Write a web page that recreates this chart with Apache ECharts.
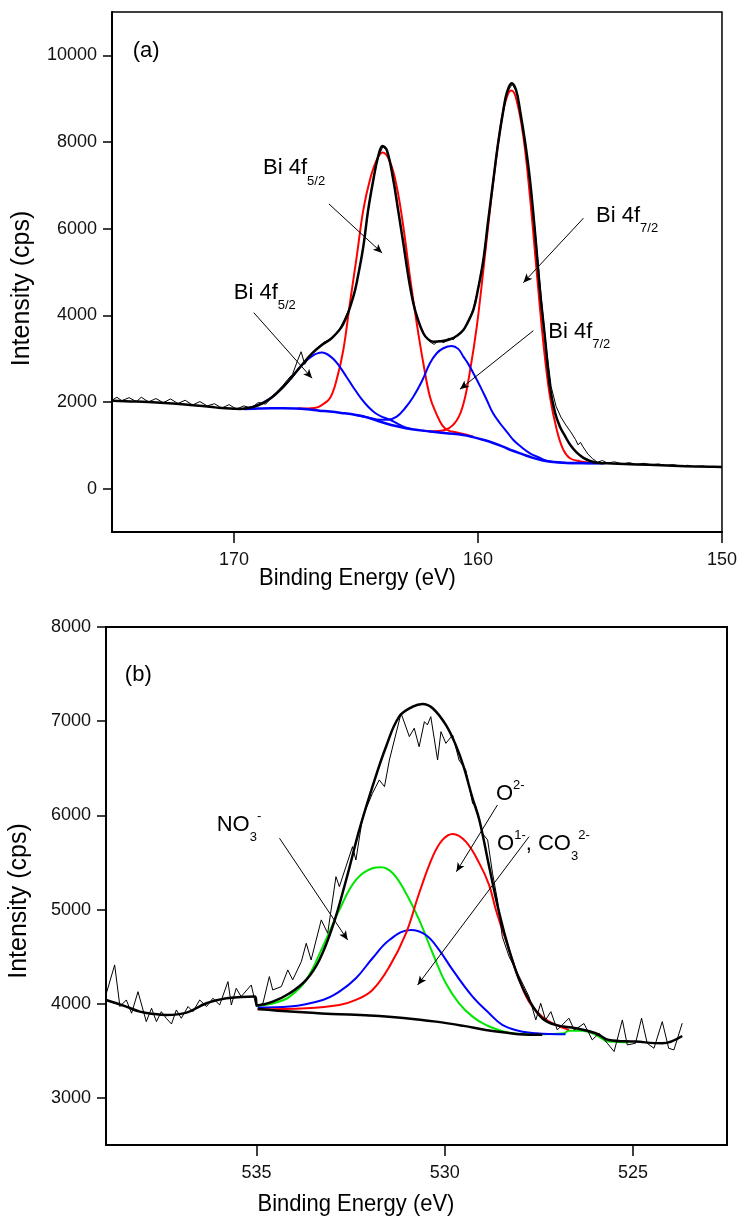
<!DOCTYPE html>
<html><head><meta charset="utf-8">
<script src="https://cdn.jsdelivr.net/npm/echarts@6.0.0/dist/echarts.min.js"></script>
<style>html,body{margin:0;padding:0;background:#fff}#c{width:740px;height:1217px}</style>
</head><body><div id="c"></div>
<script>
// ---------- Panel (a): Bi 4f ----------
const aXTicks = [150, 160, 170];
const aYTicks = [0, 2000, 4000, 6000, 8000, 10000];
const aRaw = [[175.0,2040],[174.8,2110],[174.6,2030],[174.3,2100],[174.0,2010],[173.8,2110],[173.5,2000],[173.2,2080],[172.9,1985],[172.6,2070],[172.3,1965],[172.0,2040],[171.7,1930],[171.4,2010],[171.1,1910],[170.8,1960],[170.5,1860],[170.2,1940],[169.9,1835],[169.6,1910],[169.3,1860],[169.0,1990],[168.7,1950],[168.4,2150],[168.2,2260],[168.0,2380],[167.8,2520],[167.6,2640],[167.4,2950],[167.25,3160],[167.1,2870],[166.9,3060],[166.7,3200],[166.5,3290],[166.3,3380],[166.1,3440],[165.9,3520],[165.7,3650],[165.5,3880],[165.3,4120],[165.1,4440],[164.9,4950],[164.7,5600],[164.5,6420],[164.3,7100],[164.1,7640],[163.9,7890],[163.75,7830],[163.6,7500],[163.4,6880],[163.2,6150],[163.0,5450],[162.8,4720],[162.6,4150],[162.4,3800],[162.2,3560],[162.0,3400],[161.8,3330],[161.6,3420],[161.4,3370],[161.2,3470],[161.0,3440],[160.8,3580],[160.6,3650],[160.4,3880],[160.2,4130],[160.0,4600],[159.8,5230],[159.6,6100],[159.4,7000],[159.2,7880],[159.0,8600],[158.8,9150],[158.6,9330],[158.4,9150],[158.2,8450],[158.0,7700],[157.8,6750],[157.6,5600],[157.4,4350],[157.2,3250],[157.0,2350],[156.8,1900],[156.6,1650],[156.4,1470],[156.2,1310],[156.0,1130],[155.9,1010],[155.8,1070],[155.7,970],[155.5,800],[155.3,690],[155.1,610],[154.9,650],[154.7,590],[154.4,620],[154.1,570],[153.8,600],[153.5,560],[153.2,585],[152.9,550],[152.6,570],[152.3,535],[152.0,555],[151.7,520],[151.4,540],[151.1,505],[150.8,525],[150.5,495],[150.2,510],[150.0,500]];
const aEnvelope = [[175.0,2030],[174.0,2010],[173.0,1980],[172.0,1940],[171.0,1890],[170.5,1860],[170.0,1845],[169.75,1840],[169.26,1880],[168.85,1960],[168.44,2110],[168.03,2320],[167.62,2580],[167.21,2860],[166.8,3120],[166.39,3320],[165.98,3480],[165.52,3800],[165.11,4430],[164.92,4900],[164.7,5585],[164.51,6400],[164.29,7125],[164.1,7650],[163.91,7910],[163.73,7800],[163.47,7125],[163.28,6450],[163.06,5664],[162.87,4950],[162.65,4279],[162.46,3900],[162.24,3587],[162.05,3450],[161.83,3393],[161.52,3400],[161.15,3448],[160.86,3530],[160.6,3663],[160.41,3850],[160.19,4124],[160.0,4600],[159.78,5278],[159.59,6150],[159.37,7125],[159.18,7950],[158.96,8740],[158.81,9150],[158.62,9357],[158.44,9200],[158.28,8740],[158.07,8000],[157.87,7125],[157.66,5900],[157.46,4580],[157.25,3450],[157.05,2350],[156.84,1750],[156.64,1430],[156.43,1210],[156.23,1020],[155.98,850],[155.68,710],[155.41,640],[155.14,600],[154.5,580],[153.5,560],[152.5,540],[151.5,520],[150.5,505],[150.0,500]];
const aBackground = [[169.6,1840],[169.0,1850],[168.5,1855],[168.0,1855],[167.5,1850],[167.0,1830],[166.5,1800],[166.07,1780],[165.5,1740],[165.0,1700],[164.71,1670],[164.3,1600],[163.8,1510],[163.32,1440],[162.7,1370],[161.97,1320],[161.3,1280],[160.61,1240],[160.2,1190],[159.8,1130],[159.4,1060],[158.98,970],[158.6,880],[158.16,790],[157.75,710],[157.34,650],[156.9,615],[156.52,600],[156.0,592],[155.5,588],[155.12,586],[154.85,585]];
const aBlue52 = [[169.6,1840],[169.2,1890],[168.8,1990],[168.4,2130],[168.0,2340],[167.6,2590],[167.2,2860],[166.8,3060],[166.4,3140],[166.0,3030],[165.7,2840],[165.4,2590],[165.1,2330],[164.8,2090],[164.5,1890],[164.2,1740],[163.9,1650],[163.6,1590],[163.3,1500],[163.0,1420],[162.7,1370]];
const aBlue72 = [[165.0,1700],[164.5,1640],[164.0,1590],[163.7,1590],[163.33,1662],[163.0,1850],[162.65,2123],[162.3,2480],[161.97,2894],[161.7,3120],[161.42,3240],[161.08,3293],[160.8,3220],[160.6,3047],[160.4,2880],[160.19,2663],[159.9,2350],[159.64,2047],[159.4,1760],[159.1,1509],[158.8,1300],[158.55,1124],[158.2,950],[157.87,817],[157.5,720],[157.19,646],[156.8,610],[156.4,595],[155.8,588],[155.1,586]];
const aRed52 = [[167.4,1855],[167.0,1850],[166.7,1860],[166.4,1930],[166.07,2086],[165.8,2500],[165.52,3200],[165.25,4278],[164.97,5355],[164.7,6432],[164.43,7125],[164.15,7586],[163.91,7755],[163.61,7547],[163.33,6970],[163.06,6047],[162.79,4893],[162.51,3817],[162.24,2894],[161.97,2123],[161.7,1720],[161.45,1450],[161.2,1340],[160.9,1300],[160.5,1250],[160.2,1200]];
const aRed72 = [[162.3,1345],[161.8,1325],[161.28,1371],[160.86,1586],[160.59,1971],[160.32,2740],[160.05,3739],[159.78,5047],[159.51,6432],[159.23,7740],[158.96,8740],[158.76,9125],[158.62,9186],[158.42,8971],[158.14,8125],[157.87,6740],[157.6,5047],[157.32,3356],[157.05,2123],[156.77,1355],[156.5,894],[156.23,701],[155.8,630],[155.4,600],[155.1,590]];

// ---------- Panel (b): O 1s ----------
const bXTicks = [525, 530, 535];
const bYTicks = [3000, 4000, 5000, 6000, 7000, 8000];
const bRaw = [[538.99,4111],[538.77,4412],[538.63,3970],[538.46,4040],[538.32,3899],[538.15,4128],[537.93,3810],[537.79,3952],[537.66,3810],[537.53,3916],[537.4,3846],[537.26,3785],[537.13,3934],[537.0,3846],[536.82,3970],[536.69,3916],[536.51,4040],[536.33,3970],[536.16,4058],[535.98,3987],[535.76,4235],[535.67,3987],[535.54,4164],[535.41,4076],[535.14,4199],[535.01,3970],[534.83,4005],[534.66,4288],[534.57,4146],[534.34,4182],[534.17,4359],[534.04,4253],[533.81,4447],[533.68,4642],[533.55,4465],[533.28,4890],[533.11,4748],[532.89,5349],[532.8,5243],[532.45,5668],[532.36,5526],[532.18,5986],[531.92,6234],[531.74,6376],[531.6,6305],[531.47,6588],[531.16,7084],[530.94,6836],[530.81,6925],[530.68,6729],[530.54,6995],[530.46,6960],[530.37,7048],[530.19,6588],[530.1,6889],[529.97,6765],[529.79,6853],[529.62,6588],[529.44,6482],[529.26,6128],[529.17,6092],[529.0,5810],[528.86,5739],[528.73,5385],[528.6,5102],[528.47,4712],[528.29,4500],[528.02,4288],[527.76,4075],[527.58,3828],[527.45,4005],[527.32,3828],[527.18,3916],[527.01,3722],[526.7,3846],[526.56,3722],[526.48,3740],[526.3,3790],[526.08,3616],[525.9,3687],[525.68,3580],[525.5,3492],[525.28,3828],[525.15,3563],[524.93,3580],[524.77,3846],[524.62,3580],[524.44,3527],[524.22,3810],[524.05,3527],[523.91,3510],[523.69,3793]];
const bEnvelope = [[539.0,4040],[538.5,3975],[538.1,3916],[537.7,3890],[537.4,3881],[536.86,3906],[536.33,4005],[535.8,4058],[535.4,4072],[535.05,4076],[534.97,3985],[534.57,4022],[534.12,4111],[533.68,4253],[533.33,4465],[532.98,4818],[532.62,5314],[532.27,5845],[531.92,6305],[531.56,6729],[531.21,7048],[530.85,7154],[530.59,7183],[530.32,7137],[529.97,6960],[529.7,6740],[529.5,6520],[529.26,6180],[529.08,5951],[528.82,5456],[528.55,4961],[528.29,4571],[528.02,4253],[527.76,4040],[527.41,3846],[527.05,3775],[526.52,3740],[525.99,3687],[525.64,3616],[524.93,3598],[524.22,3580],[523.69,3658]];
const bBackground = [[534.97,3945],[534.0,3915],[533.0,3892],[532.0,3875],[531.03,3847],[530.23,3810],[529.5,3765],[528.91,3722],[528.3,3690],[528.02,3676],[527.41,3670]];
const bNO3 = [[534.97,3976],[534.5,4010],[534.12,4075],[533.68,4253],[533.24,4606],[532.8,4996],[532.36,5314],[531.92,5438],[531.69,5449],[531.38,5385],[531.03,5173],[530.68,4890],[530.32,4536],[529.97,4217],[529.62,4005],[529.26,3863],[528.91,3775],[528.29,3693],[527.58,3676],[526.82,3687],[526.72,3714],[526.34,3714],[525.99,3670],[525.64,3598],[525.11,3590]];
const bO1CO3 = [[534.97,3959],[534.12,3970],[533.24,4040],[532.8,4128],[532.36,4270],[531.92,4483],[531.47,4677],[530.9,4783],[530.5,4730],[530.15,4571],[529.79,4359],[529.26,4075],[528.82,3899],[528.47,3775],[528.02,3711],[527.58,3687],[526.79,3676]];
const bO2 = [[534.97,3942],[533.68,3952],[532.8,3987],[532.36,4040],[531.92,4146],[531.47,4394],[531.03,4748],[530.68,5173],[530.32,5562],[530.06,5739],[529.79,5803],[529.44,5721],[529.08,5490],[528.82,5260],[528.64,4996],[528.29,4571],[528.02,4253],[527.76,4022],[527.41,3863],[527.05,3775],[526.7,3722]];

// ---------- annotations (data coordinates) ----------
const aLabels = [
  {main:'(a)', at:[174.15,10102]},
  {main:'Bi 4f', sub:'5/2', at:[168.81,7390]},
  {main:'Bi 4f', sub:'5/2', at:[170.01,4528]},
  {main:'Bi 4f', sub:'7/2', at:[155.16,6294]},
  {main:'Bi 4f', sub:'7/2', at:[157.12,3624]}
];
const aArrows = [
  [[166.11,6571],[163.93,5440]],
  [[169.19,4062],[166.80,2548]],
  [[155.68,6241],[158.14,4754]],
  [[157.73,3647],[160.74,2294]]
];
const bLabels = [
  {rich:'{m|(b)}', at:[538.5,7490]},
  {rich:'{m|NO}{s|3}{p|-}', at:[536.06,5898]},
  {rich:'{m|O}{p|2-}', at:[528.64,6227]},
  {rich:'{m|O}{p|1-}{m|, CO}{s|3}{p|2-}', at:[528.61,5696]}
];
const bArrows = [
  [[534.39,5757],[532.58,4677]],
  [[528.60,6110],[529.69,5402]],
  [[527.76,5774],[530.72,4199]]
];

const FONT = '"Liberation Sans", Arial, Helvetica, sans-serif';
const chart = echarts.init(document.getElementById('c'), null, {renderer:'canvas'});

function xAx(g, min, max, ticks) {
  return {type:'value', gridIndex:g, min:min, max:max, inverse:true,
    axisLine:{show:true, onZero:false, lineStyle:{color:'#000', width:2}},
    axisTick:{show:true, inside:false, length:11, lineStyle:{color:'#000', width:1.5}, customValues:ticks},
    axisLabel:{show:true, color:'#111', fontSize:18, fontFamily:FONT, margin:19, customValues:ticks,
      formatter:function(v){return String(v);}},
    splitLine:{show:false}};
}
function yAx(g, min, max, ticks) {
  return {type:'value', gridIndex:g, min:min, max:max,
    axisLine:{show:true, onZero:false, lineStyle:{color:'#000', width:2}},
    axisTick:{show:true, inside:false, length:9, lineStyle:{color:'#000', width:1.5}, customValues:ticks},
    axisLabel:{show:true, color:'#111', fontSize:18, fontFamily:FONT, margin:15, customValues:ticks,
      formatter:function(v){return String(v);}},
    splitLine:{show:false}};
}
function ln(data, gi, color, width, smooth, z) {
  return {type:'line', xAxisIndex:gi, yAxisIndex:gi, data:data, symbol:'none', showSymbol:false,
    smooth:smooth, lineStyle:{color:color, width:width}, silent:true, z:z, animation:false};
}
function arrows(list) {
  return {silent:true, animation:false, symbol:['none','arrow'], symbolSize:[6,9],
    lineStyle:{color:'#000', width:1, type:'solid'}, label:{show:false}, emphasis:{disabled:true},
    data:list.map(a => [{coord:a[0]}, {coord:a[1]}])};
}

const RED = '#ff0000', BLUE = '#0000ff', GREEN = '#00e600', BLACK = '#000';
const aRawS = ln(aRaw, 0, BLACK, 1, false, 5); aRawS.markLine = arrows(aArrows);
const bRawS = ln(bRaw, 1, BLACK, 1, false, 5); bRawS.markLine = arrows(bArrows);

const option = {
  animation:false,
  backgroundColor:'#fff',
  grid:[
    {left:112, top:12, width:611, height:520, show:true, borderColor:'#000', borderWidth:1.5, backgroundColor:'transparent'},
    {left:106, top:627, width:621, height:518, show:true, borderColor:'#000', borderWidth:2, backgroundColor:'transparent'}
  ],
  xAxis:[xAx(0,150,175,aXTicks), xAx(1,522.5,539,bXTicks)],
  yAxis:[yAx(0,-1000,11000,aYTicks), yAx(1,2500,8000,bYTicks)],
  series:[
    ln(aRed52, 0, RED, 2, 0.4, 2),
    ln(aRed72, 0, RED, 2, 0.4, 2),
    ln(aBackground, 0, BLUE, 2.5, 0.4, 3),
    ln(aBlue52, 0, BLUE, 2, 0.4, 3),
    ln(aBlue72, 0, BLUE, 2, 0.4, 3),
    aRawS,
    ln(aEnvelope, 0, BLACK, 2.5, 0.4, 6),
    ln(bNO3, 1, GREEN, 2, 0.4, 2),
    ln(bO1CO3, 1, BLUE, 2, 0.4, 2),
    ln(bO2, 1, RED, 2, 0.4, 2),
    ln(bBackground, 1, BLACK, 2.5, 0.4, 3),
    bRawS,
    ln(bEnvelope, 1, BLACK, 2.5, 0.4, 6)
  ]
};
chart.setOption(option);

const richStyles = {
  m:{fontSize:22, lineHeight:38, fontFamily:FONT, fill:'#000'},
  s:{fontSize:13, lineHeight:13, verticalAlign:'bottom', fontFamily:FONT, fill:'#000'},
  p:{fontSize:13, lineHeight:13, verticalAlign:'top', padding:[4,0,0,0], fontFamily:FONT, fill:'#000'}
};
const graphics = [];
function addLabel(gi, lab) {
  const px = chart.convertToPixel({gridIndex:gi}, lab.at);
  let txt = lab.rich;
  if (!txt) txt = '{m|' + lab.main + '}' + (lab.sub ? '{s|' + lab.sub + '}' : '');
  graphics.push({type:'text', x:px[0], y:px[1], silent:true, z:100,
    style:{text:txt, rich:richStyles, fill:'#000', align:'left', verticalAlign:'middle', font:'22px ' + FONT}});
}
aLabels.forEach(l => addLabel(0, l));
bLabels.forEach(l => addLabel(1, l));
// axis titles
function title(text, x, y, rot, sx, sy, size) {
  graphics.push({type:'text', x:x, y:y, rotation:rot, scaleX:sx, scaleY:sy, silent:true, z:100,
    style:{text:text, fill:'#000', align:'center', verticalAlign:'middle', fontSize:size, fontFamily:FONT}});
}
title('Binding Energy (eV)', 357.5, 578, 0, 1, 1.12, 22);
title('Binding Energy (eV)', 356, 1204, 0, 1, 1.12, 22);
title('Intensity (cps)', 22.5, 288.5, Math.PI/2, 1, 1, 25);
title('Intensity (cps)', 19.5, 901, Math.PI/2, 1, 1, 25);
chart.setOption({graphic:graphics});
</script></body></html>
